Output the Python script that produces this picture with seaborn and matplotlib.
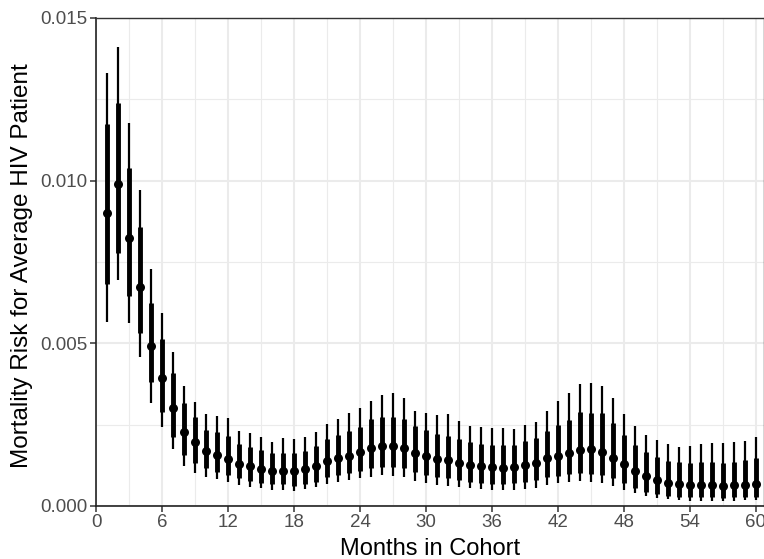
import numpy as np
import pandas as pd
import matplotlib
matplotlib.use('Agg')
import matplotlib.pyplot as plt
import seaborn as sns

# months 1..60
months = list(range(1, 61))

# estimates (x 1e-3)
est = [9.00, 9.89, 8.23, 6.72, 4.93, 3.94, 3.00, 2.28, 1.97, 1.68,
       1.58, 1.44, 1.29, 1.23, 1.15, 1.08, 1.09, 1.08, 1.13, 1.23,
       1.38, 1.47, 1.55, 1.67, 1.79, 1.84, 1.85, 1.77, 1.62, 1.54,
       1.45, 1.41, 1.31, 1.26, 1.23, 1.19, 1.18, 1.19, 1.26, 1.31,
       1.47, 1.54, 1.62, 1.72, 1.74, 1.65, 1.49, 1.29, 1.08, 0.93,
       0.80, 0.72, 0.67, 0.64, 0.64, 0.64, 0.63, 0.64, 0.66, 0.67]
inner_hi = [11.73, 12.38, 10.38, 8.57, 6.25, 5.12, 4.08, 3.16, 2.73, 2.34,
            2.28, 2.16, 1.90, 1.82, 1.72, 1.62, 1.64, 1.62, 1.70, 1.84,
            2.06, 2.18, 2.32, 2.44, 2.66, 2.73, 2.75, 2.66, 2.46, 2.34,
            2.21, 2.16, 2.05, 1.98, 1.91, 1.88, 1.88, 1.88, 2.00, 2.08,
            2.32, 2.49, 2.64, 2.88, 2.85, 2.85, 2.54, 2.18, 1.87, 1.65,
            1.52, 1.39, 1.36, 1.31, 1.34, 1.34, 1.33, 1.36, 1.41, 1.47]
inner_lo = [6.82, 7.79, 6.47, 5.31, 3.82, 2.90, 2.11, 1.57, 1.31, 1.16,
            1.05, 0.95, 0.85, 0.78, 0.72, 0.67, 0.68, 0.62, 0.68, 0.75,
            0.90, 0.95, 1.02, 1.09, 1.18, 1.21, 1.21, 1.16, 1.05, 0.95,
            0.90, 0.85, 0.80, 0.75, 0.70, 0.68, 0.68, 0.70, 0.75, 0.80,
            0.88, 0.93, 0.97, 1.00, 0.98, 0.95, 0.85, 0.70, 0.56, 0.44,
            0.36, 0.31, 0.29, 0.27, 0.27, 0.27, 0.26, 0.27, 0.29, 0.29]
outer_hi = [13.32, 14.12, 11.78, 9.71, 7.29, 5.92, 4.74, 3.69, 3.19, 2.82,
            2.78, 2.70, 2.31, 2.25, 2.11, 1.96, 2.08, 2.06, 2.13, 2.28,
            2.52, 2.66, 2.85, 3.00, 3.24, 3.41, 3.48, 3.33, 2.93, 2.87,
            2.80, 2.82, 2.61, 2.47, 2.42, 2.39, 2.39, 2.36, 2.49, 2.59,
            2.93, 3.23, 3.46, 3.74, 3.79, 3.70, 3.33, 2.83, 2.46, 2.18,
            2.03, 1.91, 1.80, 1.85, 1.90, 1.95, 1.95, 1.97, 2.01, 2.13]
outer_lo = [5.67, 6.95, 5.64, 4.59, 3.18, 2.42, 1.74, 1.23, 1.02, 0.90,
            0.83, 0.75, 0.65, 0.59, 0.54, 0.49, 0.49, 0.47, 0.51, 0.57,
            0.68, 0.73, 0.80, 0.85, 0.90, 0.95, 0.93, 0.90, 0.78, 0.70,
            0.65, 0.62, 0.57, 0.54, 0.51, 0.49, 0.49, 0.49, 0.51, 0.56,
            0.65, 0.70, 0.73, 0.77, 0.75, 0.70, 0.61, 0.49, 0.39, 0.31,
            0.24, 0.20, 0.18, 0.16, 0.16, 0.16, 0.15, 0.16, 0.18, 0.18]

df = pd.DataFrame({'month': months, 'est': est, 'ilo': inner_lo, 'ihi': inner_hi,
                   'olo': outer_lo, 'ohi': outer_hi})
for c in ['est', 'ilo', 'ihi', 'olo', 'ohi']:
    df[c] = df[c] * 1e-3

sns.set_theme(style='white')
plt.rcParams['font.family'] = ['Liberation Sans', 'DejaVu Sans']

fig = plt.figure(figsize=(7.64, 5.59), dpi=100)
ax = fig.add_axes([96/764, 1 - 506/559, 1 - 96/764, (506 - 18)/559])

# grid
ax.set_xticks(range(0, 61, 6))
ax.set_xticks(range(3, 61, 6), minor=True)
ax.set_yticks([0, 0.005, 0.010, 0.015])
ax.set_yticks([0.0025, 0.0075, 0.0125], minor=True)
ax.grid(True, which='major', color='#EBEBEB', lw=1.5, zorder=0)
ax.grid(True, which='minor', color='#EBEBEB', lw=0.8, zorder=0)
ax.set_axisbelow(True)

# intervals: thin outer, thick inner
ax.vlines(df['month'], df['olo'], df['ohi'], color='black', lw=1.6, zorder=2)
ax.vlines(df['month'], df['ilo'], df['ihi'], color='black', lw=3.5, zorder=3)
sns.scatterplot(data=df, x='month', y='est', color='black', s=42,
                edgecolor='black', linewidth=0, ax=ax, zorder=4)

ax.set_xlim(0, 60.73)
ax.set_ylim(0, 0.015)
ax.set_yticklabels(['0.000', '0.005', '0.010', '0.015'])

for s in ['top', 'right']:
    ax.spines[s].set_color('#333333')
    ax.spines[s].set_linewidth(1.0)
for s in ['left', 'bottom']:
    ax.spines[s].set_color('#222222')
    ax.spines[s].set_linewidth(1.2)

ax.tick_params(axis='both', which='major', length=4, width=1.1, color='#333333',
               labelsize=13.5, labelcolor='#4D4D4D', pad=2, bottom=True, left=True)
ax.tick_params(axis='both', which='minor', length=0)

ax.set_xlabel('Months in Cohort', fontsize=17, color='black', labelpad=5)
ax.set_ylabel('Mortality Risk for Average HIV Patient', fontsize=17.5, color='black')
ax.yaxis.set_label_coords(-0.094, 0.493)

plt.savefig('out.png', dpi=100)
